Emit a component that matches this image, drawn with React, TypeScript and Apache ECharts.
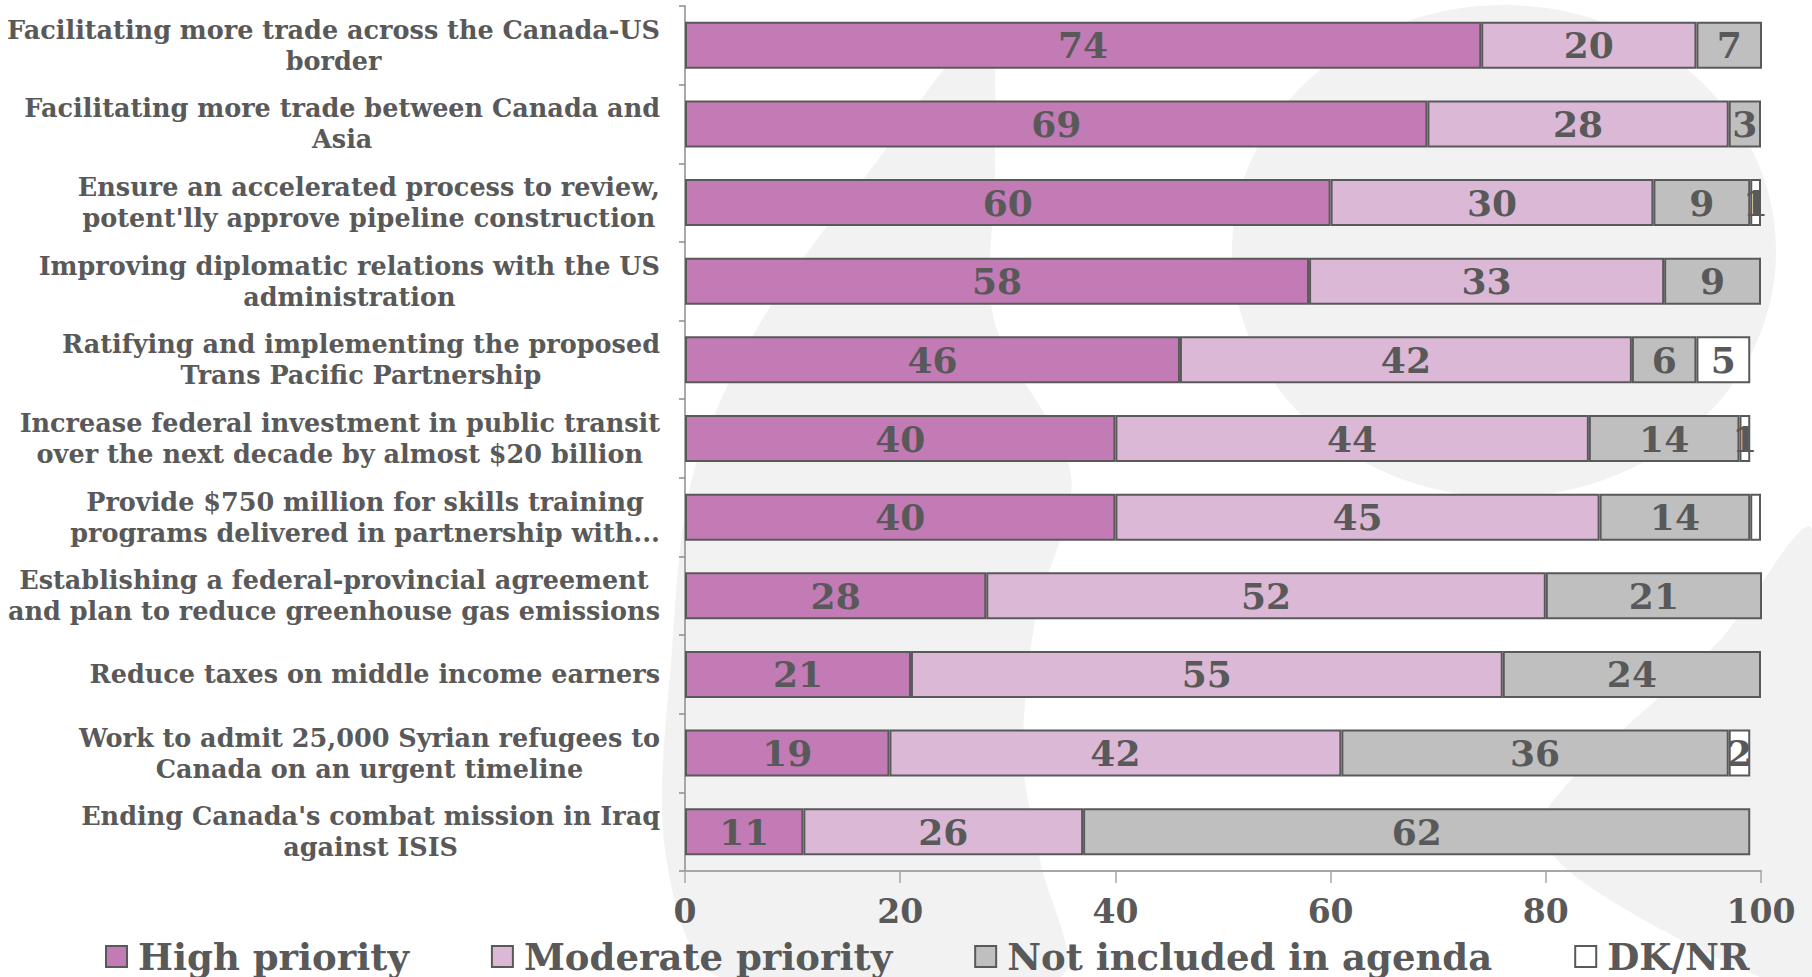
import React, { useEffect, useRef } from "react";
import * as echarts from "echarts";

const categories: string[][] = [
  ["Facilitating more trade across the Canada-US", "border"],
  ["Facilitating more trade between Canada and", "Asia"],
  ["Ensure an accelerated process to review,", "potent'lly approve pipeline construction"],
  ["Improving diplomatic relations with the US", "administration"],
  ["Ratifying and implementing the proposed", "Trans Pacific Partnership"],
  ["Increase federal investment in public transit", "over the next decade by almost $20 billion"],
  ["Provide $750 million for skills training", "programs delivered in partnership with..."],
  ["Establishing a federal-provincial agreement", "and plan to reduce greenhouse gas emissions"],
  ["Reduce taxes on middle income earners"],
  ["Work to admit 25,000 Syrian refugees to", "Canada on an urgent timeline"],
  ["Ending Canada's combat mission in Iraq", "against ISIS"],
];

const seriesNames = ["High priority", "Moderate priority", "Not included in agenda", "DK/NR"];

const highPriority = [74, 69, 60, 58, 46, 40, 40, 28, 21, 19, 11];
const moderatePriority = [20, 28, 30, 33, 42, 44, 45, 52, 55, 42, 26];
const notIncluded = [7, 3, 9, 9, 6, 14, 14, 21, 24, 36, 62];
const dkNr: (number | null)[] = [null, null, 1, null, 5, 1, 1, null, null, 2, null];
const dkNrHiddenLabel = [false, false, false, false, false, false, true, false, false, false, false];

const xTicks = [0, 20, 40, 60, 80, 100];

const colors = ["#C27BB5", "#DBB9D6", "#BFBFBF", "#FFFFFF"];
const FONT = "DejaVu Serif";
const TEXT = "#595959";

export default function App() {
  const ref = useRef<HTMLDivElement>(null);
  useEffect(() => {
    if (!ref.current) return;
    const chart = echarts.init(ref.current, undefined, { renderer: "svg" });
    const values = [highPriority, moderatePriority, notIncluded, dkNr];
    const labelKeys = categories.map((_, i) => "c" + i);
    const option: any = {
      animation: false,
      backgroundColor: "#ffffff",
      graphic: [
        {
          type: "ellipse",
          z: -10,
          silent: true,
          shape: { cx: 1504, cy: 251, rx: 272, ry: 246 },
          style: { fill: "#f2f2f2" },
        },
        {
          type: "polygon",
          z: -10,
          silent: true,
          shape: {
            smooth: 0.3,
            points: [
              [985, 30],
              [995, 160],
              [994, 320],
              [1071, 475],
              [1035, 620],
              [1023, 760],
              [1040, 860],
              [1060, 977],
              [720, 977],
              [665, 850],
              [672, 650],
              [693, 475],
              [762, 320],
              [878, 160],
            ],
          },
          style: { fill: "#f2f2f2" },
        },
        {
          type: "polygon",
          z: -10,
          silent: true,
          shape: {
            smooth: 0.3,
            points: [
              [1812, 530],
              [1812, 977],
              [1760, 977],
              [1580, 880],
              [1540, 820],
              [1720, 640],
            ],
          },
          style: { fill: "#f2f2f2" },
        },
      ],
      grid: { left: 685, right: 51, top: 6, bottom: 106, containLabel: false },
      legend: {
        data: seriesNames,
        left: 100,
        top: 933,
        itemWidth: 21,
        itemHeight: 21,
        itemGap: 82,
        icon: "rect",
        itemStyle: { borderColor: TEXT, borderWidth: 2 },
        textStyle: {
          fontFamily: FONT,
          fontWeight: "bold",
          fontSize: 37,
          color: TEXT,
          padding: [0, 0, 0, 6],
        },
      },
      xAxis: {
        type: "value",
        min: 0,
        max: 100,
        interval: 20,
        axisLine: { show: true, lineStyle: { color: "#a6a6a6", width: 2 } },
        axisTick: { show: true, length: 12, lineStyle: { color: "#a6a6a6", width: 1.5 } },
        splitLine: { show: false },
        axisLabel: {
          margin: 24,
          color: TEXT,
          fontFamily: FONT,
          fontWeight: "bold",
          fontSize: 33,
          formatter: (v: number) => (xTicks.includes(v) ? String(v) : ""),
        },
      },
      yAxis: {
        type: "category",
        inverse: true,
        data: labelKeys,
        axisLine: { show: true, lineStyle: { color: "#8c8c8c", width: 1.5 } },
        axisTick: { show: true, length: 6, lineStyle: { color: "#8c8c8c", width: 1.5 } },
        axisLabel: {
          margin: 25,
          align: "right",
          formatter: (_: string, idx: number) =>
            categories[idx].map((l) => "{c|" + l + "}").join("\n"),
          rich: {
            c: {
              align: "center",
              fontFamily: FONT,
              fontWeight: "bold",
              fontSize: 25.5,
              lineHeight: 31,
              color: TEXT,
            },
          },
        },
      },
      series: seriesNames.map((name, si) => ({
        name,
        type: "bar",
        stack: "total",
        barWidth: 47,
        data: values[si].map((v, i) =>
          si === 3 && dkNrHiddenLabel[i] ? { value: v, label: { show: false } } : v
        ),
        itemStyle: { color: colors[si], borderColor: TEXT, borderWidth: 2 },
        label: {
          show: true,
          position: "inside",
          color: TEXT,
          fontFamily: FONT,
          fontWeight: "bold",
          fontSize: 36,
          formatter: (p: any) => (p.value == null ? "" : String(p.value)),
        },
      })),
    };
    chart.setOption(option);
    return () => chart.dispose();
  }, []);
  return (
    <div
      ref={ref}
      style={{ position: "fixed", left: 0, top: 0, width: 1812, height: 977 }}
    />
  );
}
